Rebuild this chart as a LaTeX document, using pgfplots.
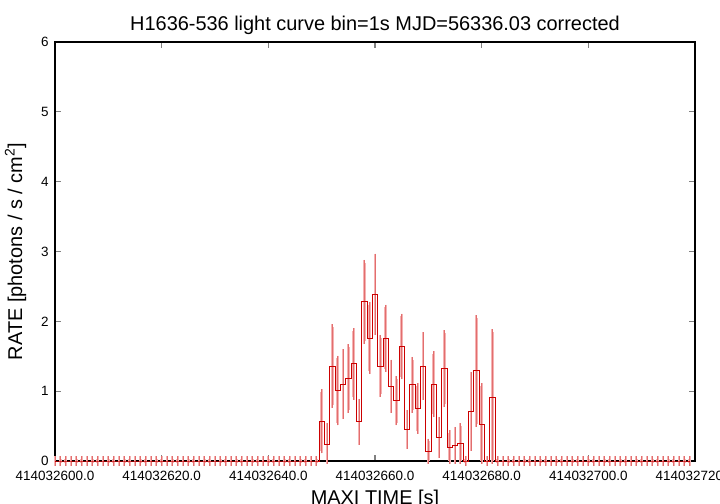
\documentclass[border=0pt]{standalone}
\usepackage{fontspec}
\setmainfont{Liberation Sans}
\usepackage{pgfplots}
\pgfplotsset{compat=1.18}
\usepackage{pgfplotstable}

% time is given as offset from 414032600 s
\pgfplotstableread{
x y ep em
0 0 0.03 0.03
1 0 0.03 0.03
2 0 0.03 0.03
3 0 0.03 0.03
4 0 0.03 0.03
5 0 0.03 0.03
6 0 0.03 0.03
7 0 0.03 0.03
8 0 0.03 0.03
9 0 0.03 0.03
10 0 0.03 0.03
11 0 0.03 0.03
12 0 0.03 0.03
13 0 0.03 0.03
14 0 0.03 0.03
15 0 0.03 0.03
16 0 0.03 0.03
17 0 0.03 0.03
18 0 0.03 0.03
19 0 0.03 0.03
20 0 0.03 0.03
21 0 0.03 0.03
22 0 0.03 0.03
23 0 0.03 0.03
24 0 0.03 0.03
25 0 0.03 0.03
26 0 0.03 0.03
27 0 0.03 0.03
28 0 0.03 0.03
29 0 0.03 0.03
30 0 0.03 0.03
31 0 0.03 0.03
32 0 0.03 0.03
33 0 0.03 0.03
34 0 0.03 0.03
35 0 0.03 0.03
36 0 0.03 0.03
37 0 0.03 0.03
38 0 0.03 0.03
39 0 0.03 0.03
40 0 0.03 0.03
41 0 0.03 0.03
42 0 0.03 0.03
43 0 0.03 0.03
44 0 0.03 0.03
45 0 0.03 0.03
46 0 0.03 0.03
47 0 0.03 0.03
48 0 0.03 0.03
49 0 0.03 0.03
50 0.57 0.42 0.42
51 0.24 0.26 0.24
52 1.36 0.56 0.56
53 1.01 0.46 0.46
54 1.10 0.46 0.46
55 1.18 0.45 0.45
56 1.39 0.47 0.47
57 0.56 0.29 0.29
58 2.28 0.56 0.56
59 1.76 0.47 0.47
60 2.39 0.54 0.54
61 1.36 0.40 0.40
62 1.76 0.44 0.44
63 1.07 0.34 0.34
64 0.86 0.31 0.31
65 1.64 0.43 0.43
66 0.45 0.24 0.24
67 1.09 0.36 0.36
68 0.75 0.32 0.32
69 1.36 0.44 0.44
70 0.13 0.15 0.13
71 1.10 0.43 0.43
72 0.34 0.25 0.25
73 1.32 0.51 0.51
74 0.19 0.21 0.19
75 0.22 0.23 0.22
76 0.25 0.25 0.25
77 0 0.03 0.03
78 0.71 0.52 0.52
79 1.29 0.76 0.76
80 0.52 0.55 0.52
81 0 0.03 0.03
82 0.91 0.94 0.91
83 0 0.03 0.03
84 0 0.03 0.03
85 0 0.03 0.03
86 0 0.03 0.03
87 0 0.03 0.03
88 0 0.03 0.03
89 0 0.03 0.03
90 0 0.03 0.03
91 0 0.03 0.03
92 0 0.03 0.03
93 0 0.03 0.03
94 0 0.03 0.03
95 0 0.03 0.03
96 0 0.03 0.03
97 0 0.03 0.03
98 0 0.03 0.03
99 0 0.03 0.03
100 0 0.03 0.03
101 0 0.03 0.03
102 0 0.03 0.03
103 0 0.03 0.03
104 0 0.03 0.03
105 0 0.03 0.03
106 0 0.03 0.03
107 0 0.03 0.03
108 0 0.03 0.03
109 0 0.03 0.03
110 0 0.03 0.03
111 0 0.03 0.03
112 0 0.03 0.03
113 0 0.03 0.03
114 0 0.03 0.03
115 0 0.03 0.03
116 0 0.03 0.03
117 0 0.03 0.03
118 0 0.03 0.03
119 0 0.03 0.03
}\lcdata

\definecolor{errpink}{RGB}{245,178,178}
\definecolor{errdark}{RGB}{226,110,110}

\begin{document}
\begin{tikzpicture}
\begin{axis}[
  at={(0,0)}, anchor=south west,
  scale only axis, width=640bp, height=419bp,
  xmin=0, xmax=120, ymin=0, ymax=6,
  xtick={0,20,...,120},
  xticklabels={414032600.0,414032620.0,414032640.0,414032660.0,414032680.0,414032700.0,414032720.0},
  ytick={0,1,...,6},
  clip=false,
  axis line style={black, line width=1.2bp},
  tick style={gray, line width=1.3bp},
  major tick length=6bp,
  tick align=inside,
  /pgf/number format/assume math mode=true,
  ticklabel style={font=\fontsize{13.5}{15}\selectfont},
  xticklabel style={yshift=-7bp},
  yticklabel style={xshift=-3bp},
  title={H1636-536 light curve bin=1s MJD=56336.03 corrected},
  title style={font=\fontsize{20}{22}\selectfont, yshift=-2bp},
  xlabel={MAXI TIME [s]},
  xlabel style={font=\fontsize{20}{22}\selectfont, yshift=-2bp},
  ylabel={RATE [photons / s / cm\textsuperscript{2}]},
  ylabel style={font=\fontsize{20}{22}\selectfont, yshift=8bp},
]
  % error bars, light wide pass
  \addplot[draw=none, mark=none, forget plot,
    error bars/.cd, y dir=both, y explicit,
    error bar style={draw=errpink, line width=2.6bp},
    error mark options={draw=errpink, line width=1.8bp, mark size=2.8bp}]
    table[x=x, y=y, y error plus=ep, y error minus=em] {\lcdata};
  % error bars, thin darker pass
  \addplot[draw=none, mark=none, forget plot,
    error bars/.cd, y dir=both, y explicit,
    error bar style={draw=errdark, line width=0.6bp},
    error mark options={draw=errdark, line width=0.6bp, mark size=2.8bp}]
    table[x=x, y=y, y error plus=ep, y error minus=em] {\lcdata};
  % histogram steps
  \addplot[draw=red!80!black, line width=0.9bp, const plot mark mid, mark=none]
    table[x=x, y=y] {\lcdata};
\end{axis}
\pgfresetboundingbox
\path[use as bounding box] (-55bp,-43bp) rectangle (665bp,461bp);
\end{tikzpicture}
\end{document}
